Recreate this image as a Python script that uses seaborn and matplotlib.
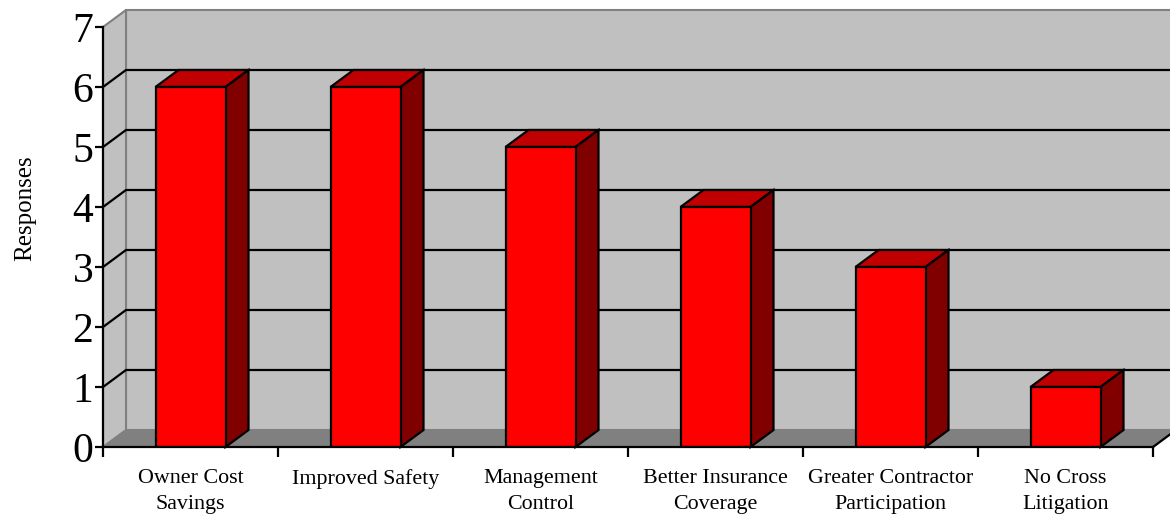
import numpy as np
import matplotlib
matplotlib.use("Agg")
import matplotlib.pyplot as plt
from matplotlib.patches import Polygon
import seaborn as sns

# Survey data
categories = ["Owner Cost\nSavings", "Improved Safety", "Management\nControl",
              "Better Insurance\nCoverage", "Greater Contractor\nParticipation",
              "No Cross\nLitigation"]
responses = [6, 6, 5, 4, 3, 1]
y_ticks = [0, 1, 2, 3, 4, 5, 6, 7]

sns.set_theme(style="white", rc={"text.color": "black", "axes.labelcolor": "black",
                                 "xtick.color": "black", "ytick.color": "black",
                                 "xtick.bottom": True, "ytick.left": True})
plt.rcParams["font.family"] = ["Liberation Serif", "DejaVu Serif"]

W, H, DPI = 1170, 515, 100
fig = plt.figure(figsize=(W / DPI, H / DPI), dpi=DPI)
ax = fig.add_axes([103 / W, (H - 447) / H, (1153 - 103) / W, (447 - 27) / H])

FRONT = "#FF0000"
TOP = "#C00000"
SIDE = "#800000"
WALL = "#C0C0C0"
FLOOR = "#808080"
EDGE_GREY = "#808080"

sns.barplot(x=list(range(len(categories))), y=responses, color=FRONT, width=0.4,
            edgecolor="black", linewidth=1.6, saturation=1, ax=ax, zorder=5)

xmin, xmax = -0.5, len(categories) - 0.5
ax.set_xlim(xmin, xmax)
ax.set_ylim(0, 7)
ax.set_facecolor("none")

# depth offset of the back plane (23 px right, 17 px up) in data units
p0 = ax.transData.transform((0, 0))
dx, dy = ax.transData.inverted().transform(p0 + np.array([23.0, 17.0]))

bars = list(ax.patches)

# back wall, side wall, floor
ymax = 7
wall = Polygon([(xmin + dx, dy), (xmax + dx, dy), (xmax + dx, ymax + dy), (xmin + dx, ymax + dy)],
               closed=True, facecolor=WALL, edgecolor=EDGE_GREY, lw=1.5, zorder=0, clip_on=False)
side = Polygon([(xmin, 0), (xmin + dx, dy), (xmin + dx, ymax + dy), (xmin, ymax)],
               closed=True, facecolor=WALL, edgecolor=EDGE_GREY, lw=1.5, zorder=0, clip_on=False)
floor = Polygon([(xmin, 0), (xmax, 0), (xmax + dx, dy), (xmin + dx, dy)],
                closed=True, facecolor=FLOOR, edgecolor=EDGE_GREY, lw=1.0, zorder=1, clip_on=False)
for p in (wall, side, floor):
    ax.add_patch(p)
ax.plot([xmax, xmax + dx], [0, dy], color="black", lw=1.6, zorder=2, clip_on=False)

# gridlines on the walls
for v in y_ticks[1:-1]:
    ax.plot([xmin, xmin + dx, xmax + dx], [v, v + dy, v + dy], color="black",
            lw=1.6, zorder=2, clip_on=False, solid_joinstyle="miter")

# 3D top and side faces for each bar
for bar in bars:
    x0 = bar.get_x()
    x1 = x0 + bar.get_width()
    h = bar.get_height()
    top = Polygon([(x0, h), (x1, h), (x1 + dx, h + dy), (x0 + dx, h + dy)], closed=True,
                  facecolor=TOP, edgecolor="black", lw=1.6, zorder=4, clip_on=False)
    right = Polygon([(x1, 0), (x1, h), (x1 + dx, h + dy), (x1 + dx, dy)], closed=True,
                    facecolor=SIDE, edgecolor="black", lw=1.6, zorder=4, clip_on=False)
    ax.add_patch(top)
    ax.add_patch(right)

# axes
for s in ("top", "right"):
    ax.spines[s].set_visible(False)
for s in ("left", "bottom"):
    ax.spines[s].set_color("black")
    ax.spines[s].set_linewidth(1.6)
    ax.spines[s].set_zorder(6)

ax.set_yticks(y_ticks)
ax.set_yticklabels([str(t) for t in y_ticks], fontsize=30, color="black")
ax.tick_params(axis="y", left=True, direction="out", length=6, width=1.6,
               color="black", pad=1)

ax.set_xticks(np.arange(xmin, xmax + 0.01, 1.0))
ax.set_xticklabels([])
ax.set_xticks(np.arange(len(categories)), minor=True)
ax.set_xticklabels(categories, minor=True, fontsize=15.8, color="black", va="top",
                   linespacing=1.45)
ax.tick_params(axis="x", which="major", bottom=True, direction="out", length=7,
               width=1.6, color="black")
ax.tick_params(axis="x", which="minor", bottom=True, length=0, pad=16)
ax.set_xlabel("")
ax.set_ylabel("")

fig.text(25 / W, 1 - 208 / H, "Responses", rotation=90, fontsize=18,
         color="black", ha="center", va="center")

fig.savefig("out.png", dpi=DPI)
